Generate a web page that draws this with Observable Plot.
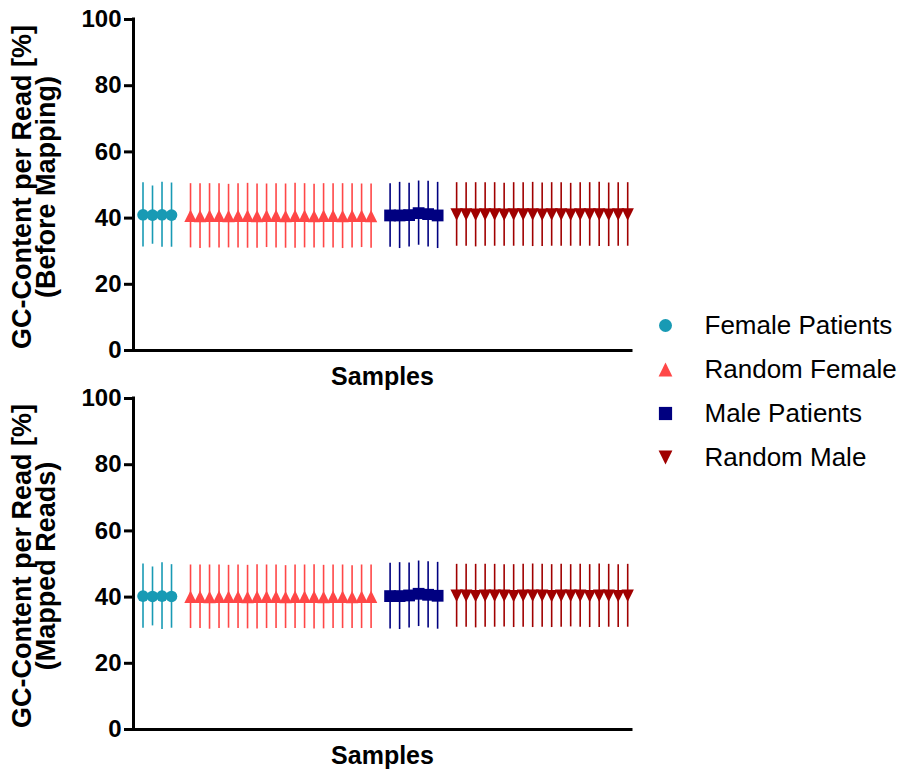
<!DOCTYPE html>
<html>
<head>
<meta charset="utf-8">
<script src="https://cdn.jsdelivr.net/npm/d3@7"></script>
<script src="https://cdn.jsdelivr.net/npm/@observablehq/plot@0.6"></script>
<style>
  html, body { margin: 0; padding: 0; background: #fff; }
  #wrap { position: relative; width: 900px; height: 772px; font-family: Arial, "Liberation Sans", sans-serif; }
  #wrap > div { position: absolute; }
  svg { font-family: Arial, "Liberation Sans", sans-serif; overflow: visible; }
</style>
</head>
<body>
<div id="wrap">
  <div id="p1" style="left:0;top:0"></div>
  <div id="p2" style="left:0;top:379px"></div>
  <div id="leg" style="left:640px;top:290px"></div>
</div>
<script>
// ---- data ----
const groups = ["Female Patients", "Random Female", "Male Patients", "Random Male"];
const colors = ["#189AB4", "#FF4747", "#000080", "#A00000"];

// Before mapping (top panel): mean and SD per sample
const fpBeforeMean = [41.0, 40.9, 41.0, 40.9];
const fpBeforeSD   = [9.7, 8.8, 9.8, 9.7];
const rfBeforeMean = [40.7, 40.6, 40.7, 40.7, 40.6, 40.7, 40.7, 40.6, 40.7, 40.7, 40.6, 40.7, 40.7, 40.6, 40.7, 40.7, 40.6, 40.7, 40.7, 40.6];
const rfBeforeSD   = [9.7, 9.8, 9.7, 9.7, 9.6, 9.7, 9.8, 9.7, 9.6, 9.7, 9.7, 9.8, 9.7, 9.6, 9.7, 9.7, 9.8, 9.7, 9.6, 9.7];
const mpBeforeMean = [40.8, 40.8, 40.9, 41.5, 41.2, 40.8];
const mpBeforeSD   = [9.6, 10.0, 9.6, 9.7, 9.9, 10.0];
const rmBeforeMean = [41.1, 41.1, 41.0, 41.1, 41.1, 41.0, 41.1, 41.1, 41.1, 41.0, 41.1, 41.1, 41.0, 41.1, 41.1, 41.1, 41.0, 41.1, 41.1];
const rmBeforeSD   = [9.6, 9.6, 9.7, 9.6, 9.6, 9.5, 9.6, 9.6, 9.7, 9.6, 9.6, 9.6, 9.5, 9.6, 9.6, 9.7, 9.6, 9.6, 9.6];

// Mapped reads (bottom panel)
const fpMappedMean = [40.3, 40.2, 40.3, 40.2];
const fpMappedSD   = [9.7, 8.9, 10.1, 9.6];
const rfMappedMean = [40.1, 40.1, 40.0, 40.1, 40.1, 40.1, 40.0, 40.1, 40.1, 40.1, 40.0, 40.1, 40.1, 40.1, 40.0, 40.1, 40.1, 40.0, 40.1, 40.1];
const rfMappedSD   = [9.6, 9.6, 9.7, 9.6, 9.5, 9.6, 9.6, 9.7, 9.6, 9.6, 9.5, 9.6, 9.6, 9.7, 9.6, 9.6, 9.6, 9.5, 9.6, 9.6];
const mpMappedMean = [40.3, 40.3, 40.5, 41.0, 40.7, 40.4];
const mpMappedSD   = [9.9, 10.1, 9.8, 9.9, 10.0, 10.1];
const rmMappedMean = [40.4, 40.4, 40.3, 40.4, 40.4, 40.4, 40.3, 40.4, 40.4, 40.4, 40.3, 40.4, 40.4, 40.4, 40.3, 40.4, 40.4, 40.3, 40.4];
const rmMappedSD   = [9.5, 9.5, 9.6, 9.5, 9.5, 9.4, 9.5, 9.5, 9.6, 9.5, 9.5, 9.5, 9.4, 9.5, 9.5, 9.6, 9.5, 9.5, 9.5];

const yTicks = [0, 20, 40, 60, 80, 100];
const titles = ["GC-Content per Read [%]\n(Before Mapping)", "GC-Content per Read [%]\n(Mapped Reads)"];
const xTitle = "Samples";

// ---- symbols ----
const triUp = { draw(ctx, size) { const r = Math.sqrt(size / Math.PI); ctx.moveTo(0, -r); ctx.lineTo(r, r); ctx.lineTo(-r, r); ctx.closePath(); } };
const triDown = { draw(ctx, size) { const r = Math.sqrt(size / Math.PI); ctx.moveTo(0, r); ctx.lineTo(r, -r); ctx.lineTo(-r, -r); ctx.closePath(); } };
const sq = { draw(ctx, size) { const r = Math.sqrt(size / Math.PI); ctx.moveTo(-r, -r); ctx.lineTo(r, -r); ctx.lineTo(r, r); ctx.lineTo(-r, r); ctx.closePath(); } };
const symbols = ["circle", triUp, sq, triDown];
const symR = [5.8, 6.2, 5.9, 6.2];

function buildRows(means, sds) {
  const rows = [];
  let start = 0;
  means.forEach((arr, g) => {
    arr.forEach((m, j) => rows.push({ group: g, pos: start + j, mean: m, sd: sds[g][j] }));
    start += arr.length + 1;
  });
  return rows;
}

const font = 'Arial, "Liberation Sans", sans-serif';

function panel(rows, title) {
  const marks = [];
  for (let g = 0; g < 4; g++) {
    const d = rows.filter(r => r.group === g);
    marks.push(Plot.ruleX(d, { x: "pos", y1: r => r.mean - r.sd, y2: r => r.mean + r.sd, stroke: colors[g], strokeWidth: 1.6 }));
  }
  for (let g = 0; g < 4; g++) {
    const d = rows.filter(r => r.group === g);
    marks.push(Plot.dot(d, { x: "pos", y: "mean", symbol: symbols[g], r: symR[g], fill: colors[g], stroke: "none" }));
  }
  marks.push(Plot.ruleX([-1], { stroke: "black", strokeWidth: 3, strokeLinecap: "square" }));
  marks.push(Plot.ruleY([0], { stroke: "black", strokeWidth: 3, strokeLinecap: "square" }));
  marks.push(Plot.axisY({ ticks: yTicks, tickSize: 9, tickPadding: 3, fontSize: 24, fontWeight: "bold", strokeWidth: 3, label: null, fill: "black", stroke: "black" }));
  marks.push(Plot.text([title], { text: d => d, frameAnchor: "left", textAnchor: "middle", dx: -98, dy: 2, rotate: -90, fontSize: 27, fontWeight: "bold", lineHeight: 0.9, fill: "black" }));
  marks.push(Plot.text([xTitle], { text: d => d, frameAnchor: "bottom", lineAnchor: "middle", dy: 26, fontSize: 25, fontWeight: "bold", fill: "black" }));
  return Plot.plot({
    width: 640, height: 385,
    marginLeft: 133, marginRight: 9, marginTop: 19, marginBottom: 35,
    style: { fontFamily: font, background: "transparent", color: "black", overflow: "visible" },
    x: { domain: [-1, 51.4], axis: null },
    y: { domain: [0, 100], axis: null },
    marks
  });
}

const topRows = buildRows([fpBeforeMean, rfBeforeMean, mpBeforeMean, rmBeforeMean], [fpBeforeSD, rfBeforeSD, mpBeforeSD, rmBeforeSD]);
const botRows = buildRows([fpMappedMean, rfMappedMean, mpMappedMean, rmMappedMean], [fpMappedSD, rfMappedSD, mpMappedSD, rmMappedSD]);
document.getElementById("p1").appendChild(panel(topRows, titles[0]));
document.getElementById("p2").appendChild(panel(botRows, titles[1]));

// legend
const legMarks = [];
for (let g = 0; g < 4; g++) {
  legMarks.push(Plot.dot([groups[g]], { x: d => 0, y: d => d, symbol: symbols[g], r: symR[g] + 0.7, fill: colors[g] }));
}
legMarks.push(Plot.text(groups, { x: d => 1, y: d => d, text: d => d, textAnchor: "start", fontSize: 26, fill: "black" }));
document.getElementById("leg").appendChild(Plot.plot({
  width: 260, height: 200, margin: 0,
  style: { fontFamily: font, background: "transparent", color: "black", overflow: "visible" },
  x: { domain: [0, 1], range: [25, 64], axis: null },
  y: { type: "point", domain: groups, range: [34, 168], padding: 0, axis: null },
  marks: legMarks
}));
</script>
</body>
</html>
